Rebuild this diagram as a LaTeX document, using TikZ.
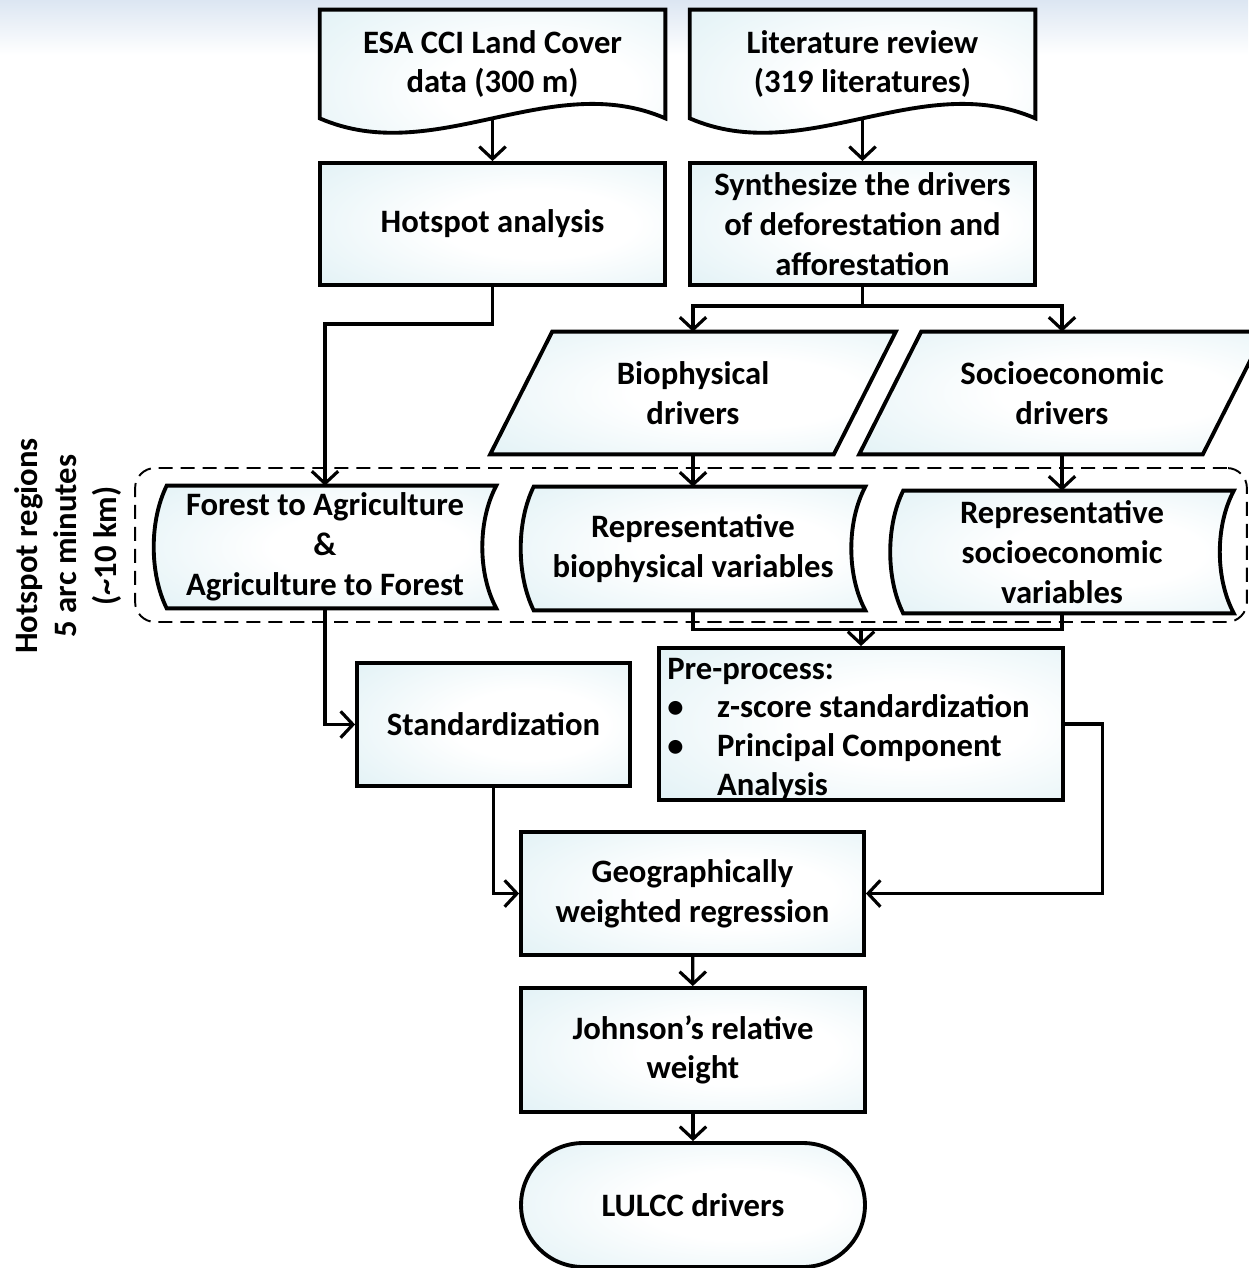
\documentclass[tikz,border=0pt]{standalone}
\usepackage{fontspec}
\setmainfont{Carlito}
\usetikzlibrary{arrows.meta,calc,backgrounds}

\definecolor{boxblue}{HTML}{DAEEF3}
\definecolor{bandblue}{HTML}{DCE6F2}
\pgfdeclareradialshading{boxshade}{\pgfpoint{8bp}{0bp}}{color(0bp)=(white); color(14bp)=(white); color(46bp)=(boxblue); color(80bp)=(boxblue)}

\tikzset{
	txt/.style={align=center, inner sep=0pt, font=\fontsize{18.6}{22.6}\selectfont\bfseries},
	outline/.style={draw, line width=2.2pt, shade, shading=boxshade},
	box/.style={txt, rectangle, outline, minimum width=6.9cm, minimum height=2.44cm},
	ln/.style={line width=1.8pt},
	arr/.style={ln, -{Straight Barb[length=7pt, width=15pt]}},
}

% outlines drawn round the text nodes
\newcommand{\docpath}[1]{\path[outline] (#1.north west) -- (#1.north east) -- (#1.south east) .. controls +(-115,-50) and +(115,50) .. (#1.south west) -- cycle;}
\newcommand{\storedpath}[1]{\path[outline] ($(#1.north west)+(13,0)$) -- (#1.north east) .. controls +(-18.7,35) and +(-18.7,-35) .. (#1.south east) -- ($(#1.south west)+(13,0)$) .. controls +(-17.3,-35) and +(-17.3,35) .. ($(#1.north west)+(13,0)$) -- cycle;}
\newcommand{\parapath}[1]{\path[outline] (#1.south west) -- ($(#1.south east)+(-62,0)$) -- (#1.north east) -- ($(#1.north west)+(62,0)$) -- cycle;}

\begin{document}
\begin{tikzpicture}[x=0.02cm, y=-0.02cm]
			\useasboundingbox (0,0) rectangle (1248,1268);
			
			\node[draw, dashed, line width=1.1pt, dash pattern=on 8pt off 4.5pt, rounded corners=0.4cm, minimum width=22.24cm, minimum height=3.08cm] (frame) at (691,545) {};
			\node[txt, rotate=90] (hsr) at (68,546) {Hotspot regions\\5 arc minutes\\(\textasciitilde10 km)};
			
			\node[txt, minimum width=6.9cm, minimum height=2.16cm] (esa) at (492.5,64) {ESA CCI Land Cover\\data (300 m)};
			\node[txt, minimum width=6.9cm, minimum height=2.16cm] (lit) at (862.5,64) {Literature review\\(319 literatures)};
			\node[box] (hot) at (492.5,224) {Hotspot analysis};
			\node[box] (syn) at (862.5,224) {Synthesize the drivers\\of deforestation and\\afforestation};
			\node[txt, minimum width=8.1cm, minimum height=2.44cm] (bio) at (693,393) {Biophysical\\drivers};
			\node[txt, minimum width=8.1cm, minimum height=2.44cm] (soc) at (1062,393) {Socioeconomic\\drivers};
			\node[txt, minimum width=6.84cm, minimum height=2.44cm] (forest) at (325,547) {Forest to Agriculture\\\&\\Agriculture to Forest};
			\node[txt, minimum width=6.88cm, minimum height=2.46cm] (rbio) at (693,548.5) {Representative\\biophysical variables};
			\node[txt, minimum width=6.86cm, minimum height=2.44cm] (rsoc) at (1062,552) {Representative\\socioeconomic\\variables};
			\node[box, minimum width=5.46cm, minimum height=2.46cm] (std) at (493.5,724.5) {Standardization};
			\node[box, minimum width=8.08cm, minimum height=3.04cm] (pre) at (861,724) {};
			\node[txt, align=left, anchor=base west, font=\fontsize{18.6}{22}\selectfont\bfseries] (pretxt) at (667,795) {Pre-process:\\\makebox[28.3pt][l]{\textbullet}z-score standardization\\\makebox[28.3pt][l]{\textbullet}Principal Component\\\hspace*{28.3pt}Analysis};
			\node[box, minimum width=6.86cm, minimum height=2.46cm] (gwr) at (692.5,893.5) {Geographically\\weighted regression};
			\node[box, minimum width=6.88cm, minimum height=2.48cm] (john) at (693,1050) {Johnson’s relative\\weight};
			\node[box, minimum width=6.88cm, minimum height=2.48cm, rounded corners=1.24cm] (lulcc) at (693,1205) {LULCC drivers};
			
			\begin{scope}[on background layer]
				\shade[top color=bandblue, bottom color=white] (0,0) rectangle (1248,55);
				\docpath{esa} \docpath{lit}
				\parapath{bio} \parapath{soc}
				\storedpath{forest} \storedpath{rbio} \storedpath{rsoc}
			\end{scope}
			
			\def\list {esa/hot, lit/syn, bio/rbio, soc/rsoc, gwr/john, john/lulcc}  % straight arrows
			\foreach \u\v in \list
			{	\draw[arr] (\u) -- (\v);}
			
			\draw[arr] (hot.south) -- ++(0,37) -| (forest);
			\draw[ln] (syn.south) -- ++(0,19) coordinate (split);
			\draw[arr] (split) -| (bio);
			\draw[arr] (split) -| (soc);
			\draw[ln] (rbio.south) -- ++(0,19) coordinate (join) -| (rsoc.south);
			\draw[arr] (join -| pre) -- (pre);
			\draw[arr] (forest.south) |- (std);
			\draw[arr] (pre.east) -- ++(38,0) |- (gwr);
			\draw[arr] (std.south) |- (gwr);
		\end{tikzpicture}
\end{document}
